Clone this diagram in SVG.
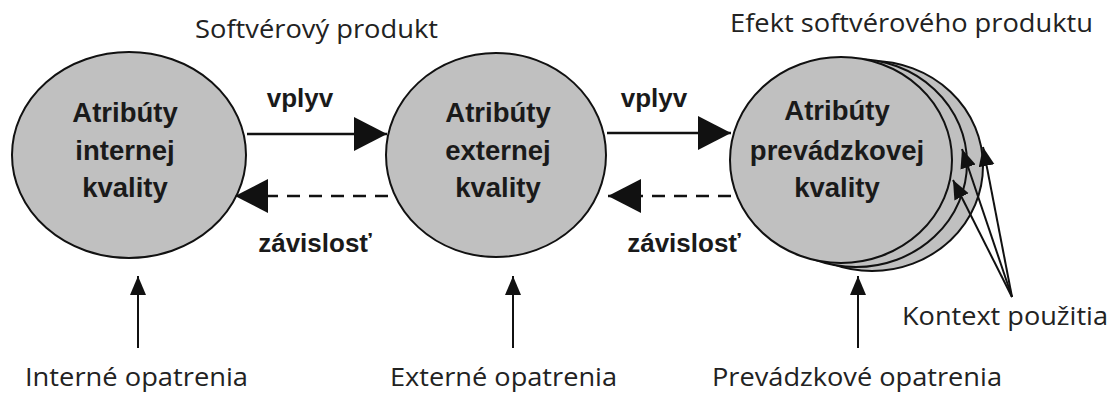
<svg xmlns="http://www.w3.org/2000/svg" width="1118" height="396" viewBox="0 0 1118 396">
  <style>
    .blob { fill: #c0c0c0; stroke: #111; stroke-width: 2; }
    .in { font-family: "Liberation Sans", Arial, sans-serif; font-weight: bold; font-size: 27.5px; fill: #1a1a1a; text-anchor: middle; }
    .lbl { font-family: "Liberation Sans", Arial, sans-serif; font-weight: bold; font-size: 26px; fill: #1a1a1a; text-anchor: middle; }
    .cap { font-family: "Open Sans", "Noto Sans", sans-serif; font-size: 25px; fill: #222; }
    .solid { stroke: #111; stroke-width: 2.4; fill: none; }
    .dash { stroke: #111; stroke-width: 2.6; fill: none; stroke-dasharray: 13 9; }
    .thin { stroke: #111; stroke-width: 2; fill: none; }
  </style>
  <defs>
    <marker id="big" markerUnits="userSpaceOnUse" markerWidth="34" markerHeight="34" refX="33" refY="17" orient="auto">
      <polygon points="0,0 33,17 0,34" fill="#111"/>
    </marker>
    <marker id="small" markerUnits="userSpaceOnUse" markerWidth="20" markerHeight="18" refX="19" refY="8" orient="auto">
      <polygon points="0,0 19,8 0,16" fill="#111"/>
    </marker>
  </defs>

  <rect width="1118" height="396" fill="#ffffff"/>

  <!-- group captions -->
  <text class="cap" x="195" y="38" textLength="243" lengthAdjust="spacingAndGlyphs">Softvérový produkt</text>
  <text class="cap" x="730" y="32" textLength="363" lengthAdjust="spacingAndGlyphs">Efekt softvérového produktu</text>

  <!-- internal quality -->
  <g id="internal">
    <ellipse class="blob" cx="129" cy="155" rx="117" ry="103"/>
    <text class="in" x="125" y="122">Atribúty</text>
    <text class="in" x="125" y="160">internej</text>
    <text class="in" x="125" y="197">kvality</text>
  </g>

  <!-- external quality -->
  <g id="external">
    <ellipse class="blob" cx="496" cy="155" rx="110" ry="102"/>
    <text class="in" x="498" y="122">Atribúty</text>
    <text class="in" x="498" y="160">externej</text>
    <text class="in" x="498" y="197">kvality</text>
  </g>

  <!-- quality in use: stacked contexts -->
  <g id="in-use">
    <ellipse class="blob" cx="872" cy="166" rx="111" ry="105"/>
    <ellipse class="blob" cx="856" cy="163" rx="111" ry="104"/>
    <ellipse class="blob" cx="841" cy="160" rx="111" ry="103"/>
    <text class="in" x="837" y="120">Atribúty</text>
    <text class="in" x="837" y="160">prevádzkovej</text>
    <text class="in" x="837" y="197">kvality</text>
  </g>

  <!-- measures and context labels -->
  <g id="internal-measures">
    <text class="cap" x="25" y="386" textLength="223" lengthAdjust="spacingAndGlyphs">Interné opatrenia</text>
  </g>
  <g id="external-measures">
    <text class="cap" x="390" y="386" textLength="227" lengthAdjust="spacingAndGlyphs">Externé opatrenia</text>
  </g>
  <g id="in-use-measures">
    <text class="cap" x="712" y="386" textLength="290" lengthAdjust="spacingAndGlyphs">Prevádzkové opatrenia</text>
  </g>
  <g id="context-of-use">
    <text class="cap" x="902" y="325" textLength="206" lengthAdjust="spacingAndGlyphs">Kontext použitia</text>
  </g>

  <g id="connectors">
    <!-- influence -->
    <line class="solid" x1="247" y1="134" x2="387" y2="134" marker-end="url(#big)"/>
    <line class="solid" x1="607" y1="133" x2="731" y2="133" marker-end="url(#big)"/>
    <text class="lbl" x="300" y="107">vplyv</text>
    <text class="lbl" x="654" y="107">vplyv</text>
    <!-- dependency -->
    <line class="dash" x1="388" y1="196" x2="235" y2="196" marker-end="url(#big)"/>
    <line class="dash" x1="731" y1="196" x2="608" y2="196" marker-end="url(#big)"/>
    <text class="lbl" x="315" y="252">závislosť</text>
    <text class="lbl" x="684" y="252">závislosť</text>
    <!-- measures -->
    <line class="thin" x1="138" y1="348" x2="138" y2="276" marker-end="url(#small)"/>
    <line class="thin" x1="513" y1="348" x2="513" y2="276" marker-end="url(#small)"/>
    <line class="thin" x1="858" y1="348" x2="858" y2="276" marker-end="url(#small)"/>
    <!-- contexts of use -->
    <line class="thin" x1="1012" y1="297" x2="962" y2="149" marker-end="url(#small)"/>
    <line class="thin" x1="1012" y1="297" x2="983" y2="147" marker-end="url(#small)"/>
    <line class="thin" x1="1012" y1="297" x2="953" y2="180" marker-end="url(#small)"/>
  </g>
</svg>
